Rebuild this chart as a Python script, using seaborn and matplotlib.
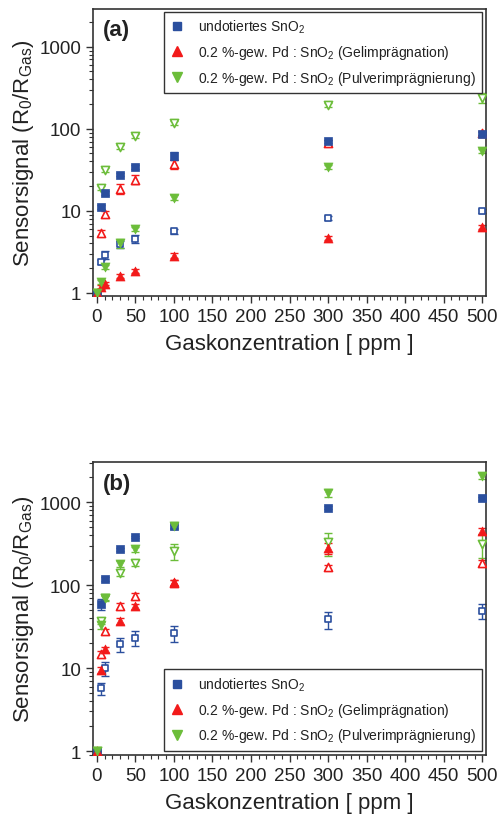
import numpy as np
import pandas as pd
import matplotlib
matplotlib.use("Agg")
import matplotlib.pyplot as plt
import seaborn as sns
from matplotlib.lines import Line2D
from matplotlib.ticker import MultipleLocator, LogLocator, FixedLocator, FixedFormatter, NullFormatter

# ---------------- data ----------------
conc = [0, 5, 10, 30, 50, 100, 300, 500]

# panel (a)
a_undot_filled = [1, 11.2, 16.6, 27.5, 34.4, 47, 71, 87]
a_undot_open = [1, 2.4, 2.9, 3.9, 4.6, 5.6, 8.2, 10.0]
a_gel_filled = [1, 1.18, 1.29, 1.6, 1.85, 2.85, 4.7, 6.4]
a_gel_open = [1, 5.4, 9.2, 18.5, 24, 37, 67, 89]
a_pulver_filled = [1, 1.36, 2.08, 4.0, 6.0, 14.4, 34.5, 53]
a_pulver_open = [1, 19.1, 31.6, 60, 82, 118, 196, 239]

a_undot_filled_err = [0, 0.6, 0.8, 1.2, 2.0, 5, 3, 4]
a_undot_open_err = [0, 0.15, 0.3, 0.4, 0.5, 0.4, 0.4, 0.5]
a_gel_filled_err = [0, 0.05, 0.06, 0.08, 0.1, 0.2, 0.3, 0.4]
a_gel_open_err = [0, 0.5, 0.8, 2.5, 3, 5, 6, 6]
a_pulver_filled_err = [0, 0.06, 0.1, 0.5, 0.4, 1.0, 2.0, 3]
a_pulver_open_err = [0, 1.0, 1.5, 4, 5, 8, 12, 35]

# panel (b)
b_undot_filled = [1, 59, 118, 272, 382, 510, 863, 1110]
b_undot_open = [1, 5.7, 9.9, 19.3, 23.2, 26.4, 39, 49]
b_gel_filled = [1, 9.5, 16.9, 36.8, 55.4, 108, 279, 451]
b_gel_open = [1, 15, 27.9, 56.3, 74.3, 106, 165, 184]
b_pulver_filled = [1, 33, 71, 179, 272, 520, 1310, 2075]
b_pulver_open = [1, 37, 70, 140, 184, 255, 327, 312]

b_undot_filled_err = [0, 9, 6, 12, 15, 20, 30, 40]
b_undot_open_err = [0, 1.0, 1.8, 3.5, 4.5, 5.5, 9, 10]
b_gel_filled_err = [0, 0.8, 1.2, 3, 4, 8, 40, 40]
b_gel_open_err = [0, 1.2, 2, 4, 6, 8, 12, 15]
b_pulver_filled_err = [0, 3, 5, 15, 20, 50, 150, 150]
b_pulver_open_err = [0, 3, 5, 12, 15, 55, 100, 100]

y_ticks = [1, 10, 100, 1000]
y_ticklabels = ["1", "10", "100", "1000"]
x_ticks = [0, 50, 100, 150, 200, 250, 300, 350, 400, 450, 500]

legend_labels = [
    "undotiertes SnO$_2$",
    "0.2 %-gew. Pd : SnO$_2$ (Gelimprägnation)",
    "0.2 %-gew. Pd : SnO$_2$ (Pulverimprägnierung)",
]

# ---------------- style ----------------
sns.set_theme(style="ticks")
plt.rcParams["font.family"] = ["Liberation Sans", "DejaVu Sans"]
plt.rcParams["mathtext.fontset"] = "custom"
plt.rcParams["mathtext.rm"] = "Liberation Sans"
plt.rcParams["mathtext.it"] = "Liberation Sans:italic"
plt.rcParams["mathtext.bf"] = "Liberation Sans:bold"

BLUE = "#2b4f9e"
RED = "#f21a1a"
GREEN = "#6cbd3a"
TXT = "#222222"

fig = plt.figure(figsize=(4.97, 8.20), dpi=100)
ax1 = fig.add_axes([0.187, 0.638, 0.791, 0.350])
ax2 = fig.add_axes([0.187, 0.078, 0.791, 0.357])


def draw_series(ax, y, err, color, marker, filled, size):
    df = pd.DataFrame({"x": conc, "y": y})
    ax.errorbar(conc, y, yerr=err, fmt="none", ecolor=color, elinewidth=1.0,
                capsize=3, capthick=1.0, zorder=2)
    sns.scatterplot(data=df, x="x", y="y", ax=ax, marker=marker, s=size,
                    color=color, edgecolor=color, linewidth=1.2 if not filled else 0.5,
                    legend=False, zorder=3)
    coll = ax.collections[-1]
    if not filled:
        coll.set_facecolor("white")
        coll.set_edgecolor(color)


def setup(ax, series, ylim, label, legend_loc, legend_anchor):
    for y, err, color, marker, filled, size in series:
        draw_series(ax, y, err, color, marker, filled, size)
    ax.set_yscale("log")
    ax.set_xlim(-5, 505)
    ax.set_ylim(*ylim)
    ax.yaxis.set_major_locator(FixedLocator(y_ticks))
    ax.yaxis.set_major_formatter(FixedFormatter(y_ticklabels))
    ax.yaxis.set_minor_locator(LogLocator(base=10, subs=np.arange(2, 10)))
    ax.yaxis.set_minor_formatter(NullFormatter())
    ax.xaxis.set_major_locator(FixedLocator(x_ticks))
    ax.xaxis.set_minor_locator(MultipleLocator(10))
    ax.tick_params(axis="both", which="major", direction="out", length=5, width=1,
                   labelsize=13.5, colors="#333333", labelcolor=TXT, top=False, right=False)
    ax.tick_params(axis="both", which="minor", direction="out", length=3, width=0.8,
                   colors="#333333", top=False, right=False)
    for sp in ax.spines.values():
        sp.set_visible(True)
        sp.set_color("#333333")
        sp.set_linewidth(1.2)
    ax.set_xlabel("Gaskonzentration [ ppm ]", fontsize=16, color=TXT, labelpad=6)
    ax.set_ylabel("Sensorsignal (R$_0$/R$_{\\mathrm{Gas}}$)", fontsize=16, color=TXT, labelpad=2)
    ax.text(0.025, 0.965, label, transform=ax.transAxes, fontsize=16,
            fontweight="bold", color=TXT, va="top", ha="left")
    handles = [
        Line2D([], [], marker="s", linestyle="none", color=BLUE, markersize=5.5),
        Line2D([], [], marker="^", linestyle="none", color=RED, markersize=6.5),
        Line2D([], [], marker="v", linestyle="none", color=GREEN, markersize=6.5),
    ]
    leg = ax.legend(handles, legend_labels, loc=legend_loc, bbox_to_anchor=legend_anchor,
                    borderaxespad=0, fontsize=10, frameon=True, fancybox=False,
                    edgecolor="#333333", framealpha=1, handlelength=1.0,
                    handletextpad=1.0, labelspacing=0.55, borderpad=0.45)
    leg.get_frame().set_linewidth(1.0)
    for t in leg.get_texts():
        t.set_color(TXT)


series_a = [
    (a_undot_open, a_undot_open_err, BLUE, "s", False, 22),
    (a_gel_open, a_gel_open_err, RED, "^", False, 34),
    (a_pulver_open, a_pulver_open_err, GREEN, "v", False, 34),
    (a_undot_filled, a_undot_filled_err, BLUE, "s", True, 30),
    (a_gel_filled, a_gel_filled_err, RED, "^", True, 42),
    (a_pulver_filled, a_pulver_filled_err, GREEN, "v", True, 42),
]
series_b = [
    (b_undot_open, b_undot_open_err, BLUE, "s", False, 22),
    (b_gel_open, b_gel_open_err, RED, "^", False, 34),
    (b_pulver_open, b_pulver_open_err, GREEN, "v", False, 34),
    (b_undot_filled, b_undot_filled_err, BLUE, "s", True, 30),
    (b_gel_filled, b_gel_filled_err, RED, "^", True, 42),
    (b_pulver_filled, b_pulver_filled_err, GREEN, "v", True, 42),
]

setup(ax1, series_a, (0.92, 2900), "(a)", "upper right", (0.99, 0.99))
setup(ax2, series_b, (0.895, 3030), "(b)", "lower right", (0.99, 0.015))

fig.savefig("out.png", dpi=100)
